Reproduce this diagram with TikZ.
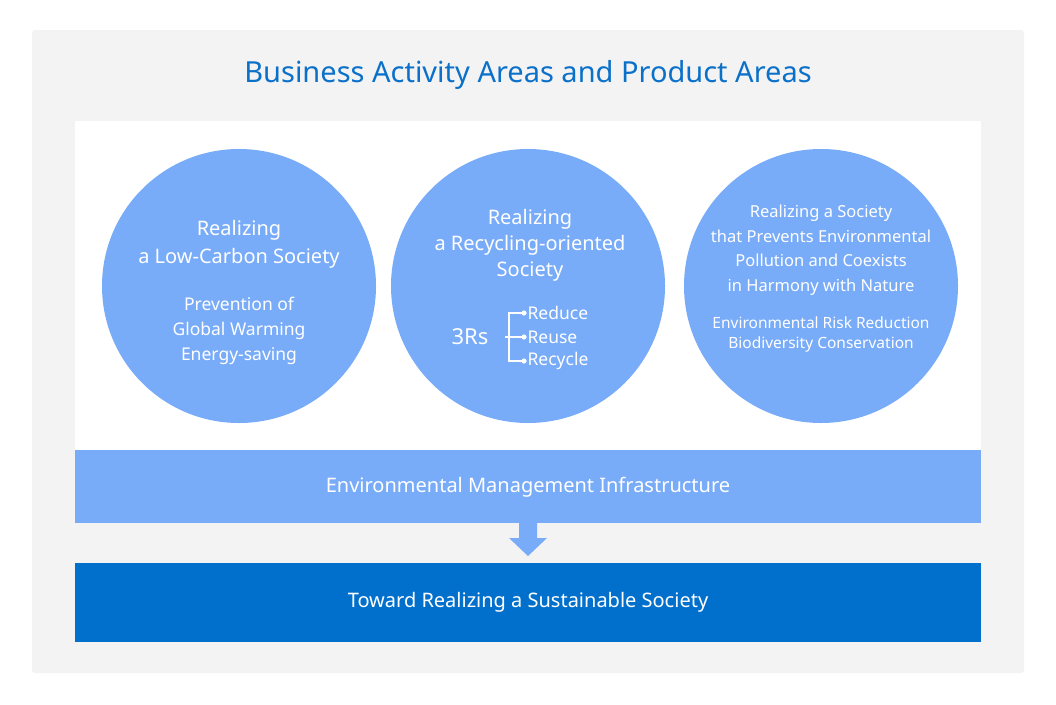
\documentclass[tikz,border=0pt]{standalone}
\usepackage{fontspec}
\setmainfont{Noto Sans}
\definecolor{bgray}{HTML}{F3F3F3}
\definecolor{circ}{HTML}{78ABF8}
\definecolor{dblue}{HTML}{0070CC}
\definecolor{tblue}{HTML}{0A70C9}
\begin{document}
\begin{tikzpicture}[x=1pt,y=-1pt,
  circlebox/.style={circle,fill=circ,minimum size=274pt,inner sep=0pt},
  wt/.style={text=white,align=center,font=\fontsize{20}{26}\selectfont},
  ws/.style={text=white,align=center,font=\fontsize{17.5}{25}\selectfont},
  bar/.style={text=white,font=\fontsize{20}{24}\selectfont\bfseries}]
\useasboundingbox (0,0) rectangle (1056,704);
\fill[bgray,rounded corners=3pt] (32,30) rectangle (1024,673);
\node[text=tblue,font=\fontsize{29}{34}\selectfont\bfseries] (title) at (528,75) {Business Activity Areas and Product Areas};
\fill[white] (75,121) rectangle (981,450);
\node[circlebox] (c1) at (239,286) {};
\node[circlebox] (c2) at (528,286) {};
\node[circlebox] (c3) at (821,286) {};
\node[wt] (t1) at (239,244) {Realizing\\[2pt]a Low-Carbon Society};
\node[ws] (s1) at (239,331) {Prevention of\\Global Warming\\Energy-saving};
\node[wt] (t2) at (530,245) {Realizing\\a Recycling-oriented\\Society};
\node[text=white,font=\fontsize{22}{26}\selectfont] (r3) at (470,337) {3Rs};
\node[ws,anchor=west] (rd) at (524,313) {Reduce};
\node[ws,anchor=west] (ru) at (524,337) {Reuse};
\node[ws,anchor=west] (rc) at (524,361) {Recycle};
\draw[white,line width=1.3pt] (rd.west) -| (509,361) -- (rc.west);
\draw[white,line width=1.3pt] (505,337) -- (ru.west);
\foreach \n in {rd,ru,rc} \fill[white] (\n.west) circle (2.6pt);
\node[text=white,align=center,font=\fontsize{16.5}{24.5}\selectfont] (t3) at (821,250) {Realizing a Society\\that Prevents Environmental\\Pollution and Coexists\\in Harmony with Nature};
\node[text=white,align=center,font=\fontsize{15.5}{20}\selectfont] (s3) at (821,334) {Environmental Risk Reduction\\Biodiversity Conservation};
\fill[circ] (75,450) rectangle (981,523);
\node[bar] (emi) at (528,487) {Environmental Management Infrastructure};
\fill[dblue] (75,563) rectangle (981,642);
\node[bar] (tow) at (528,602) {Toward Realizing a Sustainable Society};
\fill[circ] (519,523) -- (537,523) -- (537,538) -- (547,538) -- (528,556) -- (509,538) -- (519,538) -- cycle;
\end{tikzpicture}
\end{document}
